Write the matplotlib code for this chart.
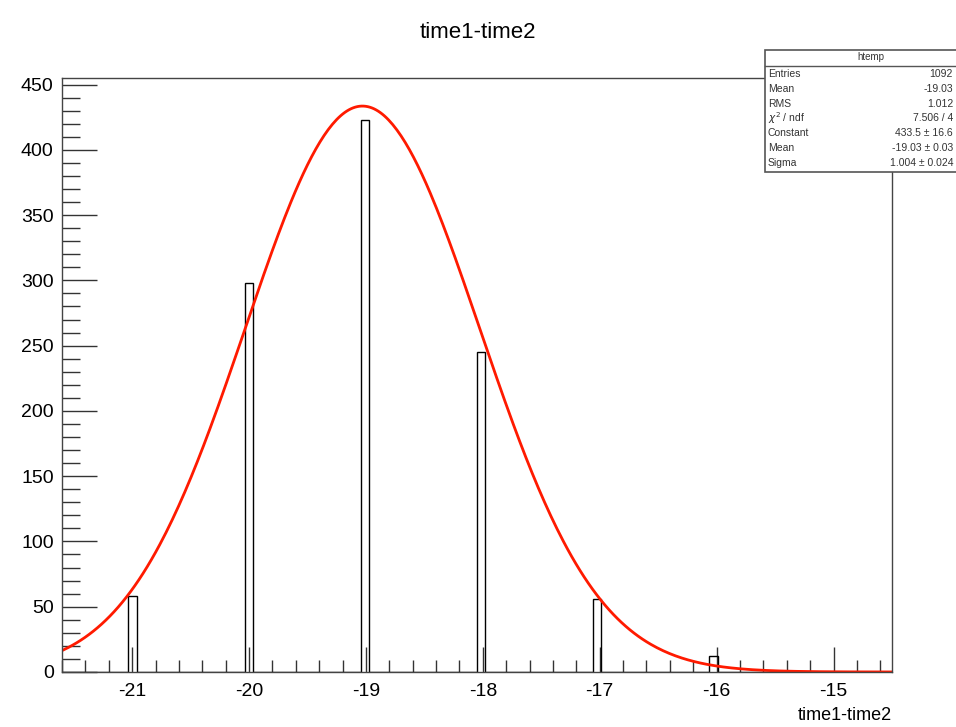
import numpy as np
import matplotlib.pyplot as plt

plt.rcParams['font.family'] = ['Liberation Sans', 'DejaVu Sans']
plt.rcParams['axes.unicode_minus'] = False

# histogram content (time1-time2), 100 bins between -21.6 and -14.5
x_lo, x_hi, n_bins = -21.6, -14.5, 100
peaks = [-21, -20, -19, -18, -17, -16.05]
counts = [58, 298, 423, 245, 56, 12]

# gaussian fit result
g_const, g_mean, g_sigma = 433.5, -19.03, 1.004

stat_names = ["Entries", "Mean", "RMS", "$\\chi^2$ / ndf", "Constant", "Mean", "Sigma"]
stat_values = ["1092", "-19.03", "1.012", "7.506 / 4", "433.5 ± 16.6",
               "-19.03 ± 0.03", "1.004 ± 0.024"]

edges = np.linspace(x_lo, x_hi, n_bins + 1)

fig = plt.figure(figsize=(9.56, 7.27), dpi=100)
ax = fig.add_axes([0.0649, 0.0757, 0.933 - 0.0649, 0.8927 - 0.0757])

ax.hist(peaks, bins=edges, weights=counts, histtype='step', color='black', lw=1.0)

xf = np.linspace(x_lo, x_hi, 400)
yf = g_const * np.exp(-0.5 * ((xf - g_mean) / g_sigma) ** 2)
ax.plot(xf, yf, color='#ff1a00', lw=2.0)

ax.set_xlim(x_lo, x_hi)
ax.set_ylim(0, 455)
ax.set_xticks(np.arange(-21, -14.9, 1))
ax.set_xticks(np.arange(-21.6, -14.4, 0.2), minor=True)
ax.set_yticks(np.arange(0, 451, 50))
ax.set_yticks(np.arange(0, 455, 10), minor=True)
ax.tick_params(which='both', direction='in', top=False, right=False,
               labelsize=14, color='#333333', width=1.0)
ax.tick_params(axis='x', which='major', length=18, pad=8)
ax.tick_params(axis='x', which='minor', length=9)
ax.tick_params(axis='y', which='major', length=25, pad=6)
ax.tick_params(axis='y', which='minor', length=13)
for s in ax.spines.values():
    s.set_color('#444444')
    s.set_linewidth(1.0)

fig.text(0.5, 0.955, "time1-time2", ha='center', va='center', fontsize=16)
fig.text(0.933, 0.016, "time1-time2", ha='right', va='center', fontsize=13)

# stat box (runs off the right side of the canvas, as in ROOT)
box_l, box_t, box_b = 765 / 956, 1 - 50 / 727, 1 - 172 / 727
fig.patches.append(plt.Rectangle((box_l, box_b), 0.3, box_t - box_b,
                                 transform=fig.transFigure, facecolor='white',
                                 edgecolor='#555555', lw=1.2, zorder=5))
fig.lines.append(plt.Line2D([box_l, box_l + 0.3], [1 - 66 / 727] * 2,
                            transform=fig.transFigure, color='#555555',
                            lw=1.0, zorder=6))
fig.text((765 + 956 + 20) / 2 / 956, 1 - 57 / 727, "htemp", ha='center',
         va='center', fontsize=7, color='#333333', zorder=7)
for i, (nm, val) in enumerate(zip(stat_names, stat_values)):
    yy = 1 - (74 + 14.8 * i) / 727
    fig.text(768 / 956, yy, nm, ha='left', va='center', fontsize=7.5,
             color='#333333', zorder=7)
    fig.text(953 / 956, yy, val, ha='right', va='center', fontsize=7.5,
             color='#333333', zorder=7)

fig.savefig("out.png", dpi=100)
